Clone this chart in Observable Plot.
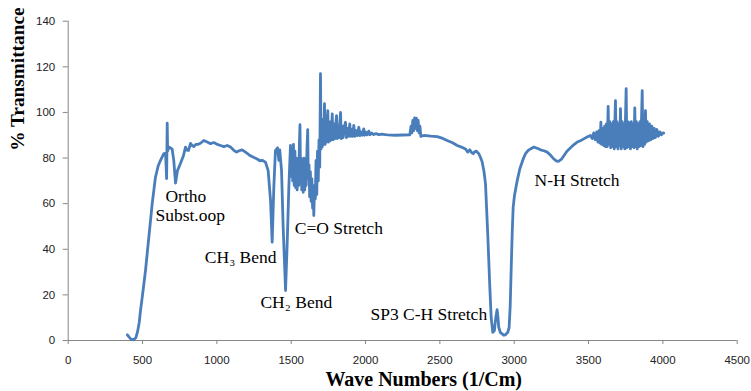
<!DOCTYPE html>
<html>
<head>
<meta charset="utf-8">
<script src="https://cdn.jsdelivr.net/npm/d3@7"></script>
<script src="https://cdn.jsdelivr.net/npm/@observablehq/plot@0.6"></script>
<style>
  html, body { margin: 0; padding: 0; background: #fff; }
</style>
</head>
<body>
<div id="chart"></div>
<script>
// Wave numbers (1/cm)
const wavenumbers = [
  398, 410, 422, 440, 455, 467, 478, 486, 500, 520, 542, 565, 587, 605, 621, 643, 655, 662, 666, 669,
  677, 699, 710, 722, 735, 755, 775, 789, 797, 809, 823, 834, 845, 858, 872, 890, 912, 935, 957, 980,
  1002, 1025, 1047, 1070, 1092, 1112, 1132, 1150, 1170, 1195, 1226, 1250, 1271, 1290, 1305, 1327, 1345, 1361, 1372, 1383,
  1394, 1408, 1417, 1423, 1435, 1446, 1462, 1473, 1484, 1495,
  1500, 1505, 1510, 1515, 1520, 1525, 1530, 1535, 1540, 1546, 1551, 1555, 1559, 1563, 1567, 1571, 1576, 1581, 1586, 1591,
  1596, 1601, 1606, 1611, 1615, 1620, 1624, 1629, 1634, 1639, 1644, 1648, 1652, 1657, 1662, 1667, 1672, 1677, 1682, 1687,
  1692, 1697, 1701, 1706, 1710, 1715, 1719, 1724, 1728, 1732, 1736, 1741, 1746, 1750, 1755, 1760, 1765, 1770, 1776, 1781,
  1787, 1793, 1799, 1805, 1810, 1816, 1822, 1827, 1832, 1837, 1843, 1849, 1856, 1865, 1871, 1878, 1885, 1894, 1900, 1907,
  1913, 1921, 1928, 1936, 1944, 1955, 1962, 1970, 1978, 1988, 1995, 2004, 2012, 2022, 2030, 2042, 2055, 2070, 2090, 2110,
  2134, 2150, 2200, 2250, 2298, 2306, 2312, 2318, 2324, 2330, 2336, 2342, 2348, 2354, 2360, 2366, 2372, 2392, 2440, 2482,
  2520, 2549, 2585, 2617, 2645, 2672, 2688, 2701, 2712, 2724, 2735, 2746, 2762, 2775, 2785, 2797, 2807, 2822, 2836, 2845,
  2856, 2867, 2876, 2885, 2891, 2896, 2907, 2919, 2930, 2941, 2957, 2966, 2973, 2980, 2987, 2993, 3002, 3020, 3038,
  3060, 3076, 3093, 3110, 3132, 3155, 3177, 3200, 3222, 3245, 3266, 3285, 3300, 3318, 3334, 3355, 3379, 3400, 3424, 3445,
  3468, 3490, 3513,
  3525, 3535, 3545, 3555, 3563, 3570, 3578, 3583, 3588, 3595, 3602, 3608, 3614, 3620, 3626, 3632, 3637, 3643, 3649, 3655,
  3661, 3667, 3673, 3681, 3686, 3692, 3698, 3704, 3710, 3715, 3720, 3726, 3732, 3738, 3744, 3753, 3758, 3764, 3770, 3776,
  3782, 3788, 3795, 3801, 3806, 3811, 3816, 3822, 3828, 3834, 3840, 3846, 3852, 3861, 3866, 3872, 3877, 3883, 3888, 3895,
  3902, 3910, 3918, 3926, 3934, 3942, 3950, 3960, 3970, 3980, 3990, 4000, 4006
];

// % Transmittance at each wave number
const transmittance = [
  2.5, 1.5, 0.6, 0.3, 1.2, 4, 8, 13, 20, 30.7, 45, 60, 71.6, 76.5, 79, 81.9, 82, 71, 95.3, 83,
  84.8, 84, 79, 69, 74.5, 77.6, 81, 84.8, 83.5, 83.3, 86.4, 85.5, 85, 86, 86, 86.5, 87.7, 87, 86.3, 86.8,
  86, 85.5, 85, 85.5, 84.8, 83.5, 82.6, 83.2, 83.6, 82.5, 81, 80.2, 79.6, 78.8, 79, 78.2, 74.5, 61.4, 43.1, 67,
  83.3, 84.5, 79, 83.6, 74.5, 49.7, 21.9, 42.5, 67, 85.5,
  72, 84, 70, 86, 68, 83, 67, 80, 66, 78, 68, 86, 94.6, 70, 80, 66, 78, 65, 80, 66,
  77, 68, 84, 92.5, 71, 77, 63, 74, 61, 71, 58, 67, 54.8, 68, 62, 79, 64, 83, 70, 88,
  76, 117, 84, 95, 85, 97, 86, 103.8, 86, 96, 87, 95, 100.8, 87, 95, 87.5, 96, 88, 99.4, 88,
  95, 88.5, 94, 98.6, 88.5, 94, 89, 95, 100, 88.5, 94, 89, 93.5, 95.7, 89, 93, 89.5, 95, 89.5, 92.5,
  89.5, 94.3, 89.5, 92, 89.8, 93.5, 89.8, 91.5, 90, 92.8, 90, 91.3, 90.2, 91.8, 90.2, 91, 90.3, 90.7, 90.3, 90.5,
  90.3, 90.2, 90, 90.1, 90.2, 94, 91, 96.5, 92, 97.6, 93, 97.5, 92, 96.5, 91, 94, 89.5, 89.9, 89.6, 89.4,
  88.6, 87.7, 86.7, 85.5, 84.8, 84, 82.6, 83.6, 82.5, 81.9, 82.8, 83, 81.9, 80, 78.2, 74, 68.7, 46.8, 23.4, 10.2,
  3.6, 4.4, 10, 13.5, 10, 5.8, 3.5, 2.9, 2.3, 2.5, 3.6, 5.8, 15, 32, 48, 58.4, 63.6, 70, 75.3,
  79.5, 81.9, 83.3, 84, 84.8, 84.3, 83.6, 83.2, 82.6, 81.2, 79.6, 78.7, 78.6, 79.5, 81, 83, 84.5, 85.8, 87, 87.6,
  88.4, 89.2, 89.9,
  88.5, 91, 88, 91.5, 87, 92, 86.5, 95.7, 86, 93, 85.5, 94, 85, 95, 85, 102.6, 86, 96, 84.5, 95,
  85, 96, 84, 105.2, 85, 96, 84, 95, 85.5, 101.7, 84, 96, 85, 95, 84, 110.4, 84.5, 96, 85, 95.5,
  84, 96, 85, 95, 84.5, 102, 85, 96, 84, 95, 85, 96, 85.5, 109.6, 85, 97, 86, 100.8, 87, 96,
  87.5, 95, 88, 94, 88.5, 93, 89, 92.5, 89.5, 91.5, 90.2, 91, 90.9
];

const xTicks = [0, 500, 1000, 1500, 2000, 2500, 3000, 3500, 4000, 4500];
const yTicks = [0, 20, 40, 60, 80, 100, 120, 140];

// Band annotations (anchored in data units)
const bandText = ["Ortho", "Subst.oop", "CH\u2083 Bend", "CH\u2082 Bend", "C=O Stretch", "N-H Stretch"];
const bandWave = [654, 587, 919, 1293, 1524, 3137];
const bandTrans = [63.1, 54.8, 36.5, 16.7, 49.2, 70.4];

const endText = ["SP3 C-H Stretch"];
const endWave = [2818];
const endTrans = [11.4];

const xTitle = "Wave Numbers (1/Cm)";
const yTitle = "% Transmittance";

const spectrum = wavenumbers.map((w, i) => ({w, t: transmittance[i]}));
const bands = bandText.map((s, i) => ({s, w: bandWave[i], t: bandTrans[i]}));
const ends = endText.map((s, i) => ({s, w: endWave[i], t: endTrans[i]}));

const serif = "'Liberation Serif', 'Times New Roman', Times, serif";
const axisGray = "#868686";

const chart = Plot.plot({
  width: 751,
  height: 391,
  marginLeft: 67.7,
  marginRight: 14.3,
  marginTop: 20.7,
  marginBottom: 51,
  style: {
    fontFamily: "'Liberation Sans', Arial, sans-serif",
    fontSize: "11.5px",
    background: "#fff",
    overflow: "visible"
  },
  x: {domain: [0, 4500]},
  y: {domain: [0, 140]},
  marks: [
    Plot.axisX({ticks: xTicks, tickSize: 4, tickPadding: 11, tickFormat: d => String(d), label: null, stroke: axisGray, fill: "#222"}),
    Plot.axisY({ticks: yTicks, tickSize: 5, tickPadding: 8, tickFormat: d => String(d), label: null, stroke: axisGray, fill: "#222"}),
    Plot.ruleX([0], {stroke: axisGray, strokeWidth: 1}),
    Plot.ruleY([0], {stroke: axisGray, strokeWidth: 1}),
    Plot.line(spectrum, {x: "w", y: "t", stroke: "#4a7ebb", strokeWidth: 2.8, strokeLinejoin: "round"}),
    Plot.text(bands, {x: "w", y: "t", text: "s", textAnchor: "start", lineAnchor: "middle", fontFamily: serif, fontSize: 17.5, fill: "#000"}),
    Plot.text(ends, {x: "w", y: "t", text: "s", textAnchor: "end", lineAnchor: "middle", fontFamily: serif, fontSize: 17.5, fill: "#000"}),
    Plot.text([xTitle], {frameAnchor: "bottom", dx: 21, dy: 39, lineAnchor: "middle", fontFamily: serif, fontWeight: "bold", fontSize: 20, fill: "#000"}),
    Plot.text([yTitle], {frameAnchor: "left", dx: -50.2, dy: -30, rotate: -90, lineAnchor: "middle", fontFamily: serif, fontWeight: "bold", fontSize: 19.3, fill: "#000"})
  ]
});

document.getElementById("chart").appendChild(chart);
</script>
</body>
</html>
